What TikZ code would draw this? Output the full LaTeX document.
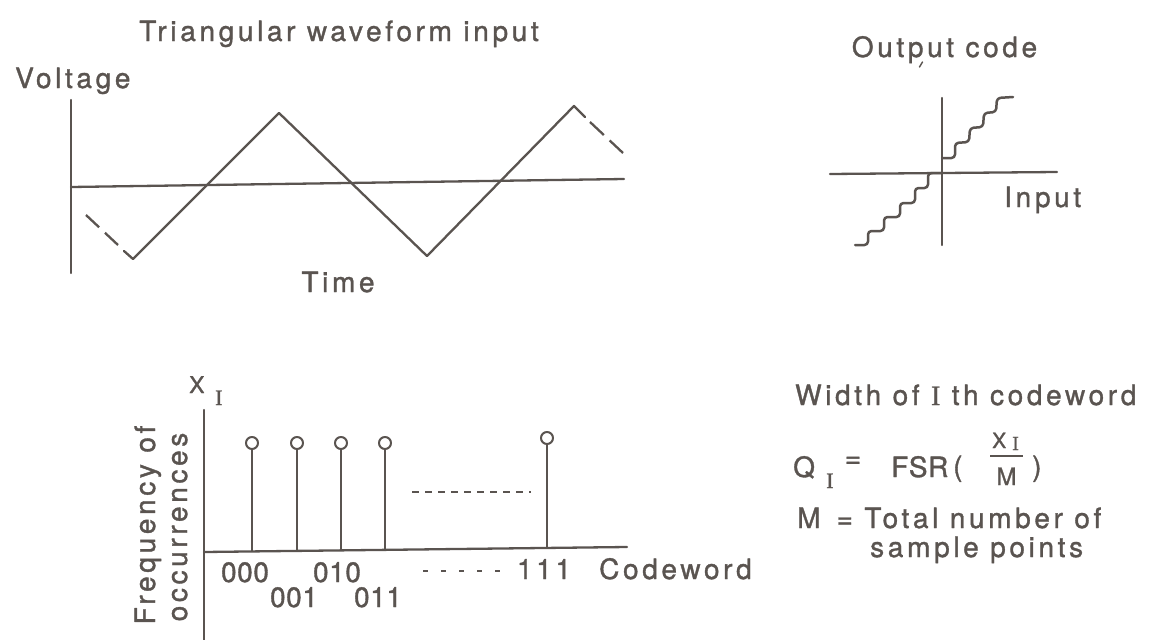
\documentclass[tikz,border=0pt]{standalone}
\usepackage{fontspec}
\setmainfont{TeX Gyre Heros}[LetterSpace=13,FakeBold=1.2]
\newfontfamily\tightfont{TeX Gyre Heros}[LetterSpace=2,FakeBold=1.2]
\newfontfamily\serifI{Liberation Serif}[FakeBold=1]
\definecolor{ink}{HTML}{5A5450}
\begin{document}
\begin{tikzpicture}[x=1pt,y=-1pt,line join=round,
  txt/.style={font=\fontsize{28}{32}\selectfont, text=ink, inner sep=0pt},
  sub/.style={font=\serifI\fontsize{22}{24}\selectfont, text=ink, inner sep=0pt},
  ln/.style={draw=ink, line width=2.3pt, line cap=round},
  dashln/.style={draw=ink, line width=2.3pt, line cap=butt},
  stair/.style={draw=ink, line width=2.5pt, line cap=round, rounded corners=3.5pt},
  stem/.style={draw=ink, line width=2pt},
  bead/.style={circle, draw=ink, line width=2pt, minimum size=12pt, inner sep=0pt, fill=white}]
\path[fill=white] (0,0) rectangle (1149,640);
\useasboundingbox (0,0) rectangle (1149,640);

% ---------- triangular waveform ----------
\node[txt, anchor=base] (title) at (339,41) {Triangular waveform input};
\node[txt, anchor=base west] (volt) at (15,88) {Voltage};
\node[txt, anchor=base] (time) at (338,292) {Time};
\coordinate (vt) at (71,100); \coordinate (vb) at (71,273);
\coordinate (h0) at (71,187); \coordinate (h1) at (624,179);
\draw[ln] (vt) -- (vb);
\draw[ln] (h0) -- (h1);
\coordinate (d0) at (86,215); \coordinate (d1) at (118,245);
\coordinate (s0) at (124,251); \coordinate (b1) at (133,259);
\coordinate (p1) at (279,113); \coordinate (b2) at (427,256);
\coordinate (p2) at (574,106); \coordinate (s1) at (585,117);
\coordinate (d2) at (590,122); \coordinate (d3) at (623,153);
\draw[dashln, dash pattern=on 18pt off 8pt] (d0) -- (d1);
\draw[ln] (s0) -- (b1) -- (p1) -- (b2) -- (p2) -- (s1);
\draw[dashln, dash pattern=on 19pt off 8pt] (d2) -- (d3);

% ---------- staircase transfer curve ----------
\node[txt, anchor=base] (oc) at (944.5,57) {Output code};
\coordinate (m0) at (919.5,67); \coordinate (m1) at (922.5,62);
\draw[draw=ink, line width=1.4pt, line cap=round] (m0) -- (m1);
\coordinate (qt) at (942,98); \coordinate (qb) at (942,245);
\coordinate (ql) at (830,174); \coordinate (qr) at (1057,172);
\draw[ln] (qt) -- (qb);
\draw[ln] (ql) -- (qr);
\node[txt, anchor=base west] (inp) at (1004,207) {Input};
\draw[stair] (942,158) -- (955,158) -- (955,143) -- (969,142) -- (970,128)
  -- (983,127) -- (984,113) -- (996,112) -- (997,98) -- (1013,97);
\draw[stair] (942,173) -- (928,173) -- (928,188) -- (915,188) -- (915,203)
  -- (900,203) -- (900,217) -- (884,217) -- (884,231) -- (868,231)
  -- (868,245) -- (855,245);

% ---------- histogram ----------
\node[txt, font=\fontsize{23}{26}\selectfont, anchor=base west] (xl) at (189,393) {X};
\node[sub, anchor=base west] (xli) at (215,405) {I};
\coordinate (ya) at (204,410); \coordinate (yb) at (204,640);
\coordinate (xa) at (204,552); \coordinate (xb) at (627,547);
\draw[ln] (ya) -- (yb);
\draw[ln] (xa) -- (xb);
\foreach \n/\x/\y/\b in {1/252/443/551, 2/297/443/551, 3/341/443/550, 4/385/443/550, 5/547/438/548}{
  \node[bead] (c\n) at (\x,\y) {};
  \coordinate (a\n) at (\x,\b);
  \draw[stem] (c\n) -- (a\n);
}
\coordinate (g0) at (412,492); \coordinate (g1) at (531,492);
\draw[dashln, line width=2pt, dash pattern=on 7pt off 6pt] (g0) -- (g1);
\coordinate (r0) at (423,571); \coordinate (r1) at (504,571);
\draw[dashln, line width=2pt, dash pattern=on 5pt off 13pt] (r0) -- (r1);
\node[txt, font=\tightfont\fontsize{28}{32}\selectfont, anchor=base] (l000) at (245,582) {000};
\node[txt, font=\tightfont\fontsize{28}{32}\selectfont, anchor=base] (l010) at (337,582) {010};
\node[txt, font=\tightfont\fontsize{28}{32}\selectfont, anchor=base] (l001) at (294,607) {001};
\node[txt, font=\tightfont\fontsize{28}{32}\selectfont, anchor=base] (l011) at (378,607) {011};
\node[txt, anchor=base] (l111) at (544,579) {111};
\node[txt, anchor=base west] (cw) at (599,579) {Codeword};
\node[txt, rotate=90, anchor=base] (fr1) at (155,525) {Frequency of};
\node[txt, rotate=90, anchor=base] (fr2) at (187,527) {occurrences};

% ---------- formula text ----------
\node[txt, anchor=base west] (wd) at (795,405) {Width of {\serifI I} th codeword};
\node[txt, anchor=base west] (qq) at (793,477) {Q};
\node[sub, anchor=base west] (qqi) at (826,488) {I};
\node[txt, anchor=center] (eq) at (853,462) {=};
\node[txt, font=\tightfont\fontsize{28}{32}\selectfont, anchor=base west] (fsr) at (891,477) {FSR};
\node[txt, anchor=base west] (lp) at (953,476) {(};
\node[txt, font=\fontsize{21}{24}\selectfont, anchor=base west] (nx) at (992,448) {X};
\node[sub, font=\serifI\fontsize{20}{22}\selectfont, anchor=base west] (nxi) at (1012,450) {I};
\coordinate (fb0) at (990,456); \coordinate (fb1) at (1023,456);
\draw[draw=ink, line width=1.8pt] (fb0) -- (fb1);
\node[txt, font=\fontsize{24}{26}\selectfont, anchor=base] (dm) at (1006.5,485) {M};
\node[txt, anchor=base west] (rp) at (1032,476) {)};
\node[txt, anchor=base west] (mt) at (797,528) {M \,= Total number of};
\node[txt, anchor=base west] (sp) at (870,557) {sample points};
\end{tikzpicture}
\end{document}
